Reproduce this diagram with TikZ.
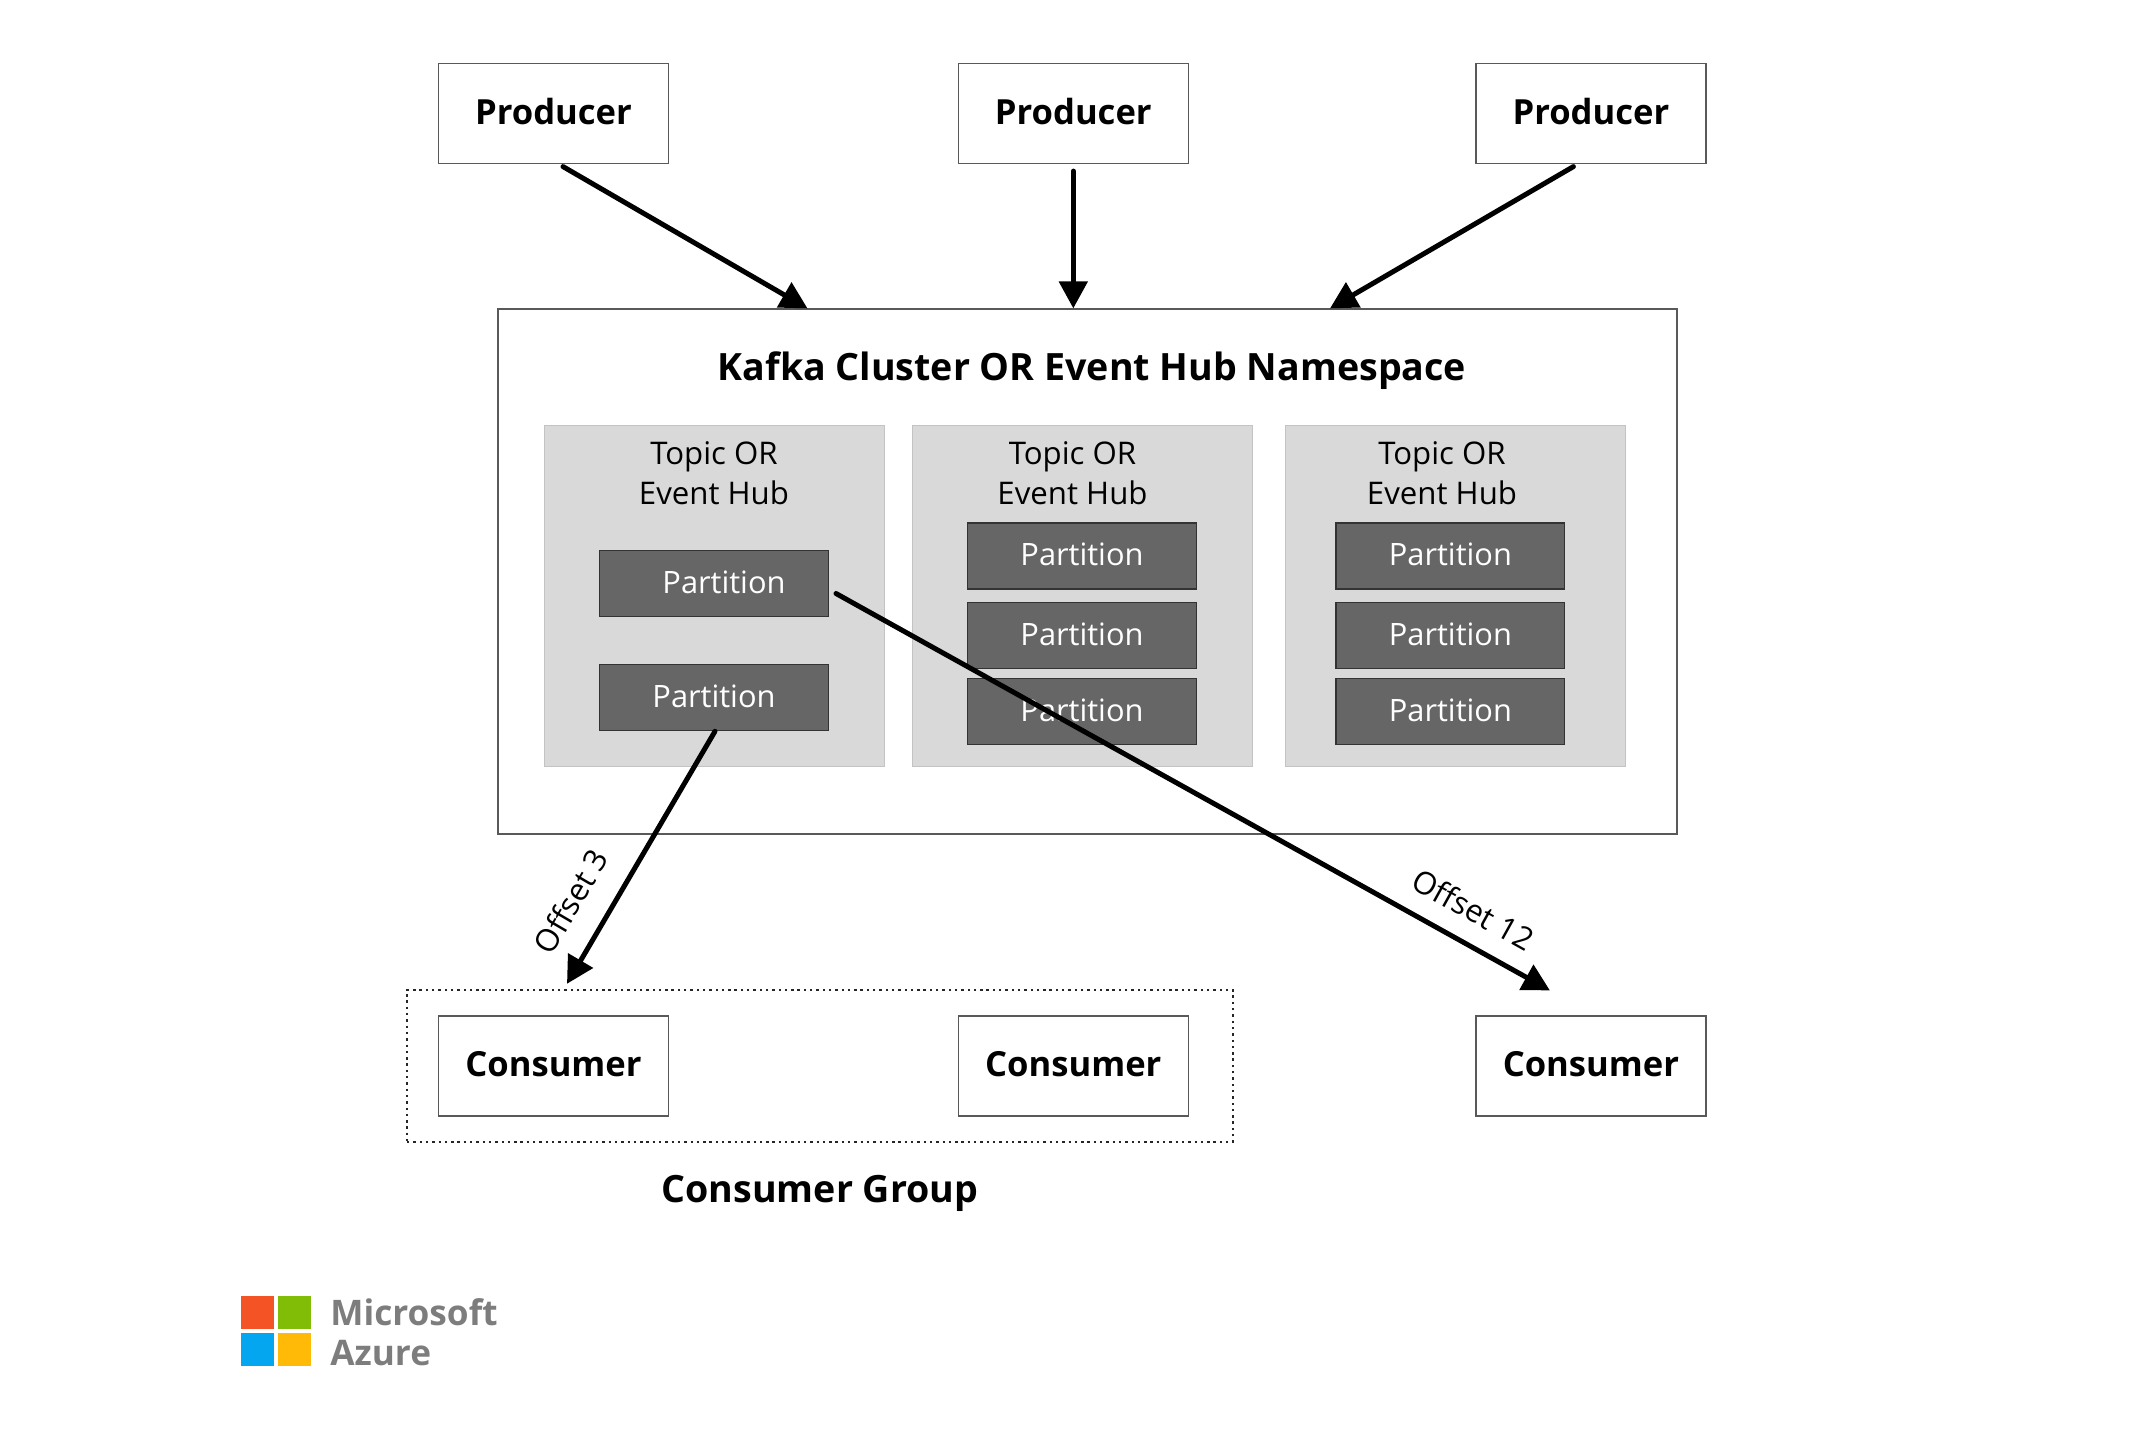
\documentclass[tikz,border=0pt]{standalone}
\usepackage{fontspec}
\setmainfont{Open Sans}
\definecolor{BoxGray}{RGB}{89,89,89}
\definecolor{PanelGray}{RGB}{217,217,217}
\definecolor{PartGray}{RGB}{102,102,102}
\definecolor{LogoGray}{RGB}{125,125,125}
\definecolor{LogoRed}{RGB}{243,83,37}
\definecolor{LogoGreen}{RGB}{129,188,6}
\definecolor{LogoBlue}{RGB}{5,166,240}
\definecolor{LogoYellow}{RGB}{255,186,8}
\usetikzlibrary{arrows.meta, positioning}

\begin{document}
\begin{tikzpicture}[x=0.5pt,y=-0.5pt,node distance=16pt and 16pt,
	endbox/.style={draw=BoxGray,line width=0.6pt,fill=white,minimum width=115pt,minimum height=50pt,inner sep=0pt,text depth=2.4pt,font=\fontsize{17.3}{20}\selectfont\bfseries},
	cluster/.style={draw=BoxGray,line width=0.6pt,fill=white,minimum width=589.5pt,minimum height=262.5pt,inner sep=0pt},
	panel/.style={fill=PanelGray,draw=PanelGray!90!black,line width=0.3pt,minimum width=170pt,minimum height=170.5pt,inner sep=0pt},
	part/.style={fill=PartGray,draw=black!80,line width=0.6pt,minimum width=114.4pt,minimum height=33pt,inner sep=0pt,text=white,text depth=1.5pt,font=\fontsize{15.4}{18}\selectfont},
	topic/.style={align=center,inner sep=0pt,font=\fontsize{15.6}{20}\selectfont},
	heading/.style={inner sep=0pt,font=\fontsize{18.8}{22}\selectfont\bfseries},
	offset/.style={inner sep=0pt,font=\fontsize{15.6}{18}\selectfont},
	square/.style={minimum size=16.5pt,inner sep=0pt},
	brand/.style={inner sep=0pt,text=LogoGray,font=\fontsize{17.6}{21}\selectfont\bfseries},
	flow/.style={-{Triangle[length=13.5pt,width=14pt]},line width=2.5pt,line cap=round}]
\useasboundingbox (0,0) rectangle (2156,1438);
% top row
\node[endbox] (prod1) at (553.5,113.5) {Producer};
\node[endbox,right=144.3pt of prod1] (prod2) {Producer};
\node[endbox,right=143.2pt of prod2] (prod3) {Producer};
\node[cluster] (hub) at (1087.5,571.5) {};
\draw[flow] ([shift={(9.5,2.5)}]prod1.south) -- ([shift={(-280,0)}]hub.north);
\draw[flow] ([shift={(0,7)}]prod2.south) -- ([shift={(-14.2,0)}]hub.north);
\draw[flow] ([shift={(-17.5,2.5)}]prod3.south) -- ([shift={(242.5,0)}]hub.north);
\node[heading] (hubtitle) at (1092,370.5) {Kafka Cluster OR Event Hub Namespace};
% topics
\node[panel] (topic1) at (714,595.5) {};
\node[panel,right=14pt of topic1] (topic2) {};
\node[panel,right=16pt of topic2] (topic3) {};
\node[topic] (name1) at (714,473) {Topic OR\\Event Hub};
\node[topic] (name2) at (1072.5,473) {Topic OR\\Event Hub};
\node[topic] (name3) at (1442,473) {Topic OR\\Event Hub};
\node[part] (part1a) at (714,583.5) {\hspace{10pt}Partition};
\node[part,below=23.5pt of part1a] (part1b) {Partition};
\node[part] (part2a) at (1082,556) {Partition};
\node[part,below=6.3pt of part2a] (part2b) {Partition};
\node[part,below=4.3pt of part2b] (part2c) {Partition};
\node[part,right=69.2pt of part2a] (part3a) {Partition};
\node[part,below=6.3pt of part3a] (part3b) {Partition};
\node[part,below=4.3pt of part3b] (part3c) {Partition};
% bottom row
\node[endbox] (cons1) at (553.5,1066) {Consumer};
\node[endbox,right=144.3pt of cons1] (cons2) {Consumer};
\node[endbox,right=143.2pt of cons2] (cons3) {Consumer};
\node[draw=black!85,line width=1.2pt,dash pattern=on 1.2pt off 1.95pt,minimum width=413pt,minimum height=76pt,inner sep=0pt] (group) at (820,1066) {};
\node[heading,below=15.7pt of group] (grouptitle) {Consumer Group};
\draw[flow] ([shift={(1,0)}]part1b.south) -- node[offset,sloped,above=12pt,pos=0.75] (off3) {Offset 3} ([shift={(-253,-5)}]group.north);
\draw[flow] ([shift={(7,10)}]part1a.east) -- node[offset,sloped,above=9.5pt,pos=0.87] (off12) {Offset 12} ([shift={(-41,-25)}]cons3.north);
% logo
\node[square,fill=LogoRed] (red) at (257.5,1312.5) {};
\node[square,fill=LogoGreen,right=1.5pt of red] (green) {};
\node[square,fill=LogoBlue,below=1.5pt of red] (blue) {};
\node[square,fill=LogoYellow,right=1.5pt of blue] (yellow) {};
\node[brand,anchor=base west] (ms) at (330,1325) {Microsoft};
\node[brand,anchor=base west] (az) at (330,1365) {Azure};
\end{tikzpicture}
\end{document}
